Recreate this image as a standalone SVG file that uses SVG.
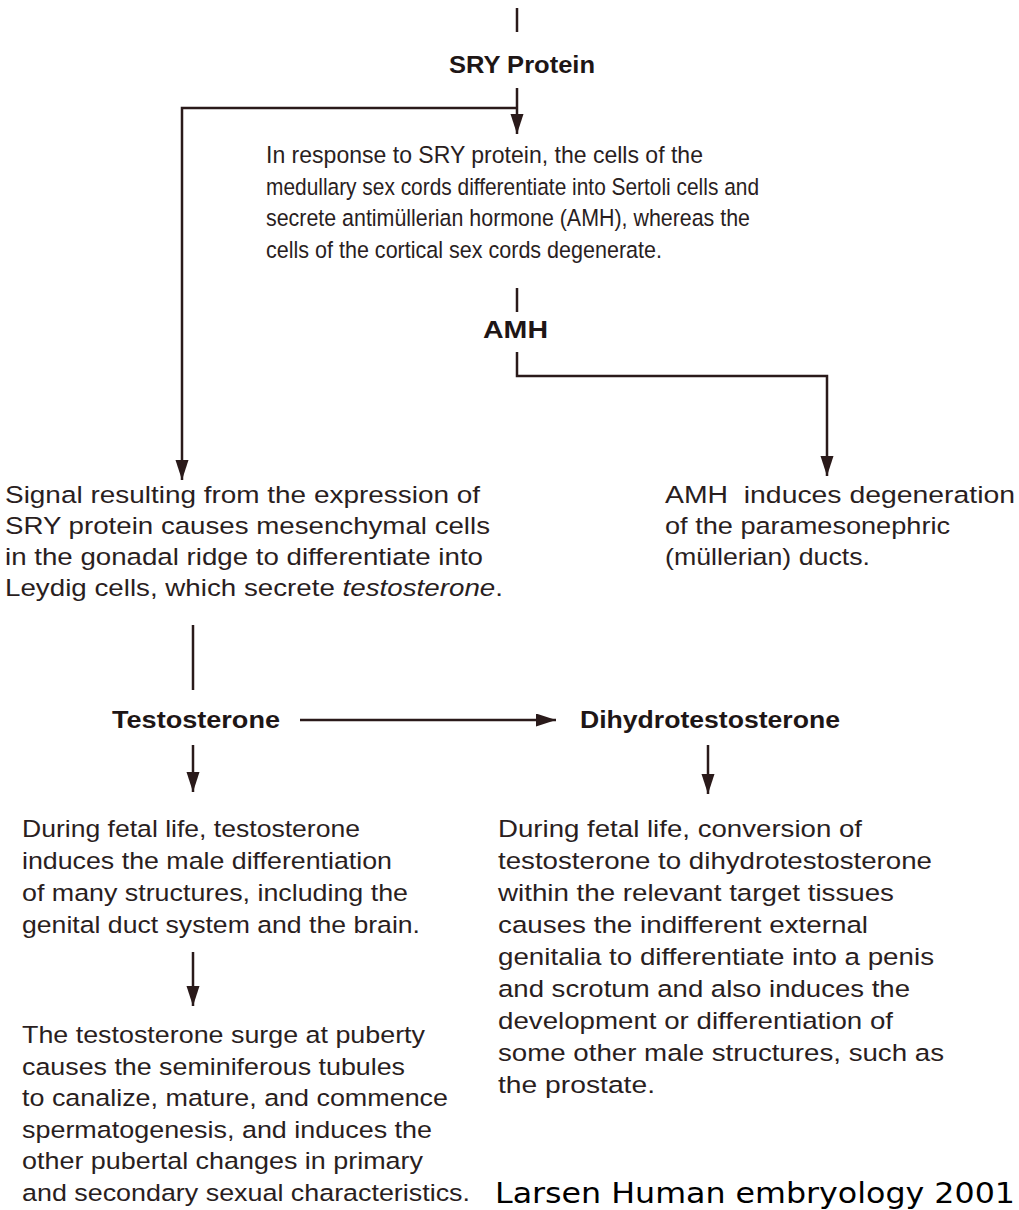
<svg xmlns="http://www.w3.org/2000/svg" width="1019" height="1210" viewBox="0 0 1019 1210">
<style>
  .t { font-family: "Liberation Sans", Arial, sans-serif; font-size: 24.5px; fill: #2a1e1e; }
  .b { font-family: "Liberation Sans", Arial, sans-serif; font-size: 23px; font-weight: bold; fill: #1e1616; }
  .c { fill: none; stroke: #2a1a1a; stroke-width: 2.5; }
  .cite { font-family: "DejaVu Sans", Verdana, sans-serif; font-size: 29px; fill: #000; }
</style>
<defs>
  <marker id="ah" markerUnits="userSpaceOnUse" markerWidth="22" markerHeight="14" refX="20" refY="6.5" orient="auto">
    <path d="M0,0 L20,6.5 L0,13 z" fill="#2a1a1a"/>
  </marker>
</defs>
<rect width="1019" height="1210" fill="#ffffff"/>

<g id="connectors">
  <line class="c" x1="517" y1="8" x2="517" y2="32"/>
  <line class="c" x1="517" y1="88" x2="517" y2="134" marker-end="url(#ah)"/>
  <polyline class="c" points="517,108 182,108 182,480" marker-end="url(#ah)"/>
  <line class="c" x1="517" y1="288" x2="517" y2="312"/>
  <polyline class="c" points="517,352 517,376 827,376 827,476" marker-end="url(#ah)"/>
  <line class="c" x1="193" y1="625" x2="193" y2="690"/>
  <line class="c" x1="300" y1="720" x2="556" y2="720" marker-end="url(#ah)"/>
  <line class="c" x1="193" y1="745" x2="193" y2="792" marker-end="url(#ah)"/>
  <line class="c" x1="708" y1="745" x2="708" y2="794" marker-end="url(#ah)"/>
  <line class="c" x1="193" y1="952" x2="193" y2="1006" marker-end="url(#ah)"/>
</g>

<g id="sry">
  <text class="b" x="449" y="73" textLength="146" lengthAdjust="spacingAndGlyphs">SRY Protein</text>
</g>

<g id="sertoli">
  <text class="t" x="266" y="163" textLength="437" lengthAdjust="spacingAndGlyphs">In response to SRY protein, the cells of the</text>
  <text class="t" x="266" y="195" textLength="493" lengthAdjust="spacingAndGlyphs">medullary sex cords differentiate into Sertoli cells and</text>
  <text class="t" x="266" y="226" textLength="484" lengthAdjust="spacingAndGlyphs">secrete antimüllerian hormone (AMH), whereas the</text>
  <text class="t" x="266" y="258" textLength="396" lengthAdjust="spacingAndGlyphs">cells of the cortical sex cords degenerate.</text>
</g>

<g id="amh">
  <text class="b" x="483" y="338" textLength="65" lengthAdjust="spacingAndGlyphs">AMH</text>
</g>

<g id="leydig">
  <text class="t" x="5" y="503" textLength="475" lengthAdjust="spacingAndGlyphs">Signal resulting from the expression of</text>
  <text class="t" x="5" y="534" textLength="485" lengthAdjust="spacingAndGlyphs">SRY protein causes mesenchymal cells</text>
  <text class="t" x="5" y="565" textLength="478" lengthAdjust="spacingAndGlyphs">in the gonadal ridge to differentiate into</text>
  <text class="t" x="5" y="596" textLength="498" lengthAdjust="spacingAndGlyphs">Leydig cells, which secrete <tspan font-style="italic">testosterone</tspan>.</text>
</g>

<g id="amh-effect">
  <text class="t" x="665" y="503" textLength="350" lengthAdjust="spacingAndGlyphs" style="white-space:pre">AMH  induces degeneration</text>
  <text class="t" x="665" y="534" textLength="285" lengthAdjust="spacingAndGlyphs">of the paramesonephric</text>
  <text class="t" x="665" y="565" textLength="205" lengthAdjust="spacingAndGlyphs">(müllerian) ducts.</text>
</g>

<g id="testosterone">
  <text class="b" x="112" y="728" textLength="168" lengthAdjust="spacingAndGlyphs">Testosterone</text>
</g>

<g id="dihydrotestosterone">
  <text class="b" x="580" y="728" textLength="260" lengthAdjust="spacingAndGlyphs">Dihydrotestosterone</text>
</g>

<g id="fetal-testosterone">
  <text class="t" x="22" y="837" textLength="338" lengthAdjust="spacingAndGlyphs">During fetal life, testosterone</text>
  <text class="t" x="22" y="869" textLength="370" lengthAdjust="spacingAndGlyphs">induces the male differentiation</text>
  <text class="t" x="22" y="901" textLength="386" lengthAdjust="spacingAndGlyphs">of many structures, including the</text>
  <text class="t" x="22" y="933" textLength="398" lengthAdjust="spacingAndGlyphs">genital duct system and the brain.</text>
</g>

<g id="puberty">
  <text class="t" x="22" y="1043" textLength="403" lengthAdjust="spacingAndGlyphs">The testosterone surge at puberty</text>
  <text class="t" x="22" y="1075" textLength="383" lengthAdjust="spacingAndGlyphs">causes the seminiferous tubules</text>
  <text class="t" x="22" y="1106" textLength="426" lengthAdjust="spacingAndGlyphs">to canalize, mature, and commence</text>
  <text class="t" x="22" y="1138" textLength="410" lengthAdjust="spacingAndGlyphs">spermatogenesis, and induces the</text>
  <text class="t" x="22" y="1169" textLength="401" lengthAdjust="spacingAndGlyphs">other pubertal changes in primary</text>
  <text class="t" x="22" y="1201" textLength="448" lengthAdjust="spacingAndGlyphs">and secondary sexual characteristics.</text>
</g>

<g id="fetal-dht">
  <text class="t" x="498" y="837" textLength="364" lengthAdjust="spacingAndGlyphs">During fetal life, conversion of</text>
  <text class="t" x="498" y="869" textLength="434" lengthAdjust="spacingAndGlyphs">testosterone to dihydrotestosterone</text>
  <text class="t" x="498" y="901" textLength="396" lengthAdjust="spacingAndGlyphs">within the relevant target tissues</text>
  <text class="t" x="498" y="933" textLength="370" lengthAdjust="spacingAndGlyphs">causes the indifferent external</text>
  <text class="t" x="498" y="965" textLength="436" lengthAdjust="spacingAndGlyphs">genitalia to differentiate into a penis</text>
  <text class="t" x="498" y="997" textLength="412" lengthAdjust="spacingAndGlyphs">and scrotum and also induces the</text>
  <text class="t" x="498" y="1029" textLength="395" lengthAdjust="spacingAndGlyphs">development or differentiation of</text>
  <text class="t" x="498" y="1061" textLength="446" lengthAdjust="spacingAndGlyphs">some other male structures, such as</text>
  <text class="t" x="498" y="1093" textLength="157" lengthAdjust="spacingAndGlyphs">the prostate.</text>
</g>

<g id="citation">
  <text class="cite" x="495" y="1203" textLength="520" lengthAdjust="spacingAndGlyphs">Larsen Human embryology 2001</text>
</g>
</svg>
